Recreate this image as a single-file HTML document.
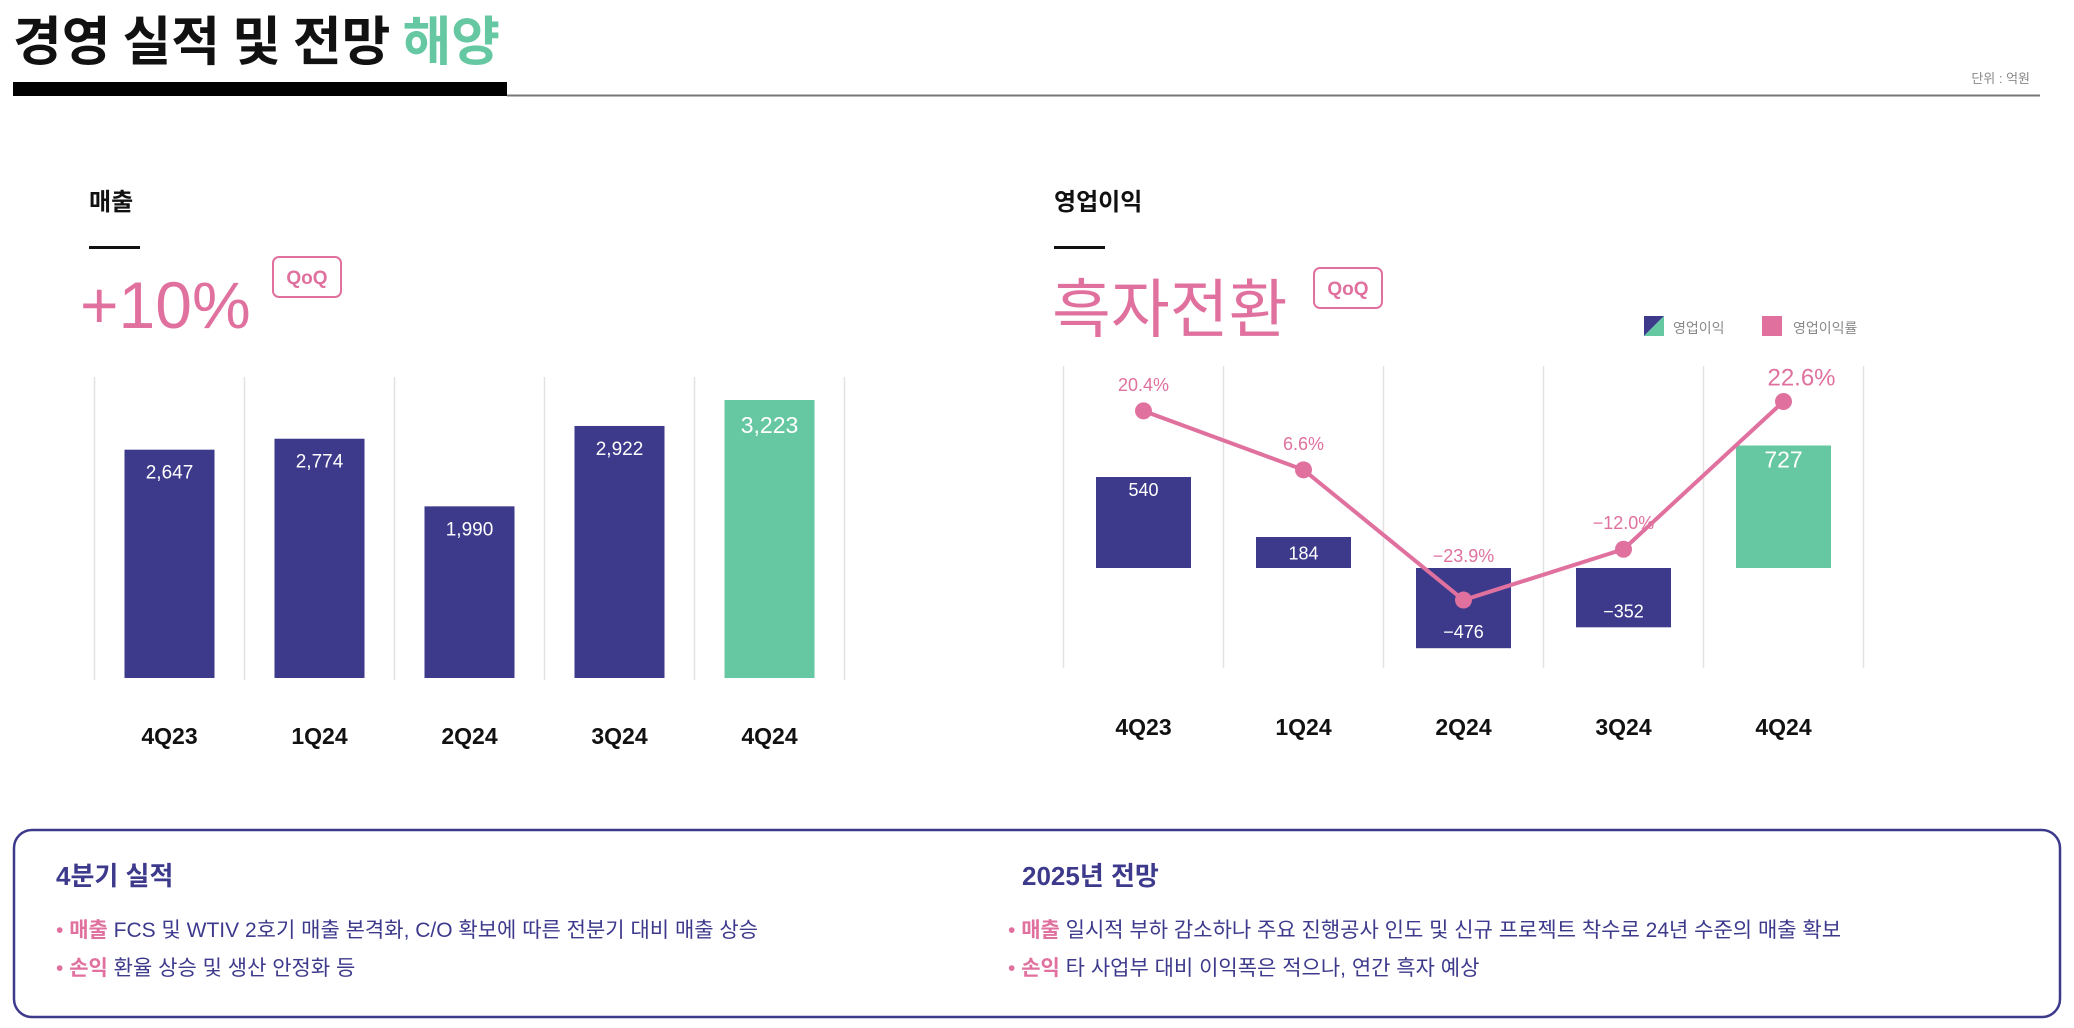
<!DOCTYPE html>
<html><head><meta charset="utf-8"><style>
html,body{margin:0;padding:0;background:#fff;}
svg{display:block;font-family:"Liberation Sans","Noto Sans CJK KR",sans-serif;}
</style></head><body>
<svg id="root" width="2074" height="1028" viewBox="0 0 2074 1028" xmlns="http://www.w3.org/2000/svg">
<text x="13" y="60" font-size="53" font-weight="700" fill="#111" font-family="Noto Sans CJK KR, sans-serif">경영 실적 및 전망 <tspan fill="#66c7a3">해양</tspan></text>
<rect x="13" y="82" width="494" height="14" fill="#000"/>
<rect x="507" y="94.5" width="1533" height="2" fill="#777"/>
<text x="2030" y="83" font-size="13" fill="#888" text-anchor="end">단위 : 억원</text>

<text x="89" y="210" font-size="24" font-weight="700" fill="#111">매출</text>
<rect x="89" y="246" width="51" height="3" fill="#111"/>
<text x="80" y="328" font-size="66" fill="#e0719f">+10%</text>
<rect x="273" y="257" width="68" height="40" rx="6" fill="none" stroke="#e0719f" stroke-width="2"/>
<text x="307" y="284" font-size="19" font-weight="700" fill="#e0719f" text-anchor="middle">QoQ</text>

<text x="1054" y="210" font-size="24" font-weight="700" fill="#111">영업이익</text>
<rect x="1054" y="246" width="51" height="3" fill="#111"/>
<text x="1052" y="332" font-size="64" fill="#e0719f" font-family="Noto Sans CJK KR, sans-serif">흑자전환</text>
<rect x="1314" y="268" width="68" height="40" rx="6" fill="none" stroke="#e0719f" stroke-width="2"/>
<text x="1348" y="295" font-size="19" font-weight="700" fill="#e0719f" text-anchor="middle">QoQ</text>

<g>
<polygon points="1644,316 1664,316 1644,336" fill="#3d3a8c"/>
<polygon points="1664,316 1664,336 1644,336" fill="#66c7a3"/>
<text x="1673" y="333" font-size="14" fill="#888">영업이익</text>
<rect x="1762" y="316" width="20" height="20" fill="#e0719f"/>
<text x="1793" y="333" font-size="14" fill="#888">영업이익률</text>
</g>
<g id="left"></g><g id="right"></g>

<rect x="14" y="830" width="2046" height="187" rx="18" fill="none" stroke="#3d3a8c" stroke-width="2.5"/>
<g font-size="21" fill="#3d3a8c">
<text x="56" y="885" font-size="26" font-weight="700">4분기 실적</text>
<text x="56" y="937"><tspan fill="#e0719f">• <tspan font-weight="700">매출</tspan></tspan> FCS 및 WTIV 2호기 매출 본격화, C/O 확보에 따른 전분기 대비 매출 상승</text>
<text x="56" y="975"><tspan fill="#e0719f">• <tspan font-weight="700">손익</tspan></tspan> 환율 상승 및 생산 안정화 등</text>
<text x="1022" y="885" font-size="26" font-weight="700">2025년 전망</text>
<text x="1008" y="937"><tspan fill="#e0719f">• <tspan font-weight="700">매출</tspan></tspan> 일시적 부하 감소하나 주요 진행공사 인도 및 신규 프로젝트 착수로 24년 수준의 매출 확보</text>
<text x="1008" y="975"><tspan fill="#e0719f">• <tspan font-weight="700">손익</tspan></tspan> 타 사업부 대비 이익폭은 적으나, 연간 흑자 예상</text>
</g>
</svg>
<script>
const categories = ["4Q23","1Q24","2Q24","3Q24","4Q24"];
const revenue = [2647,2774,1990,2922,3223];
const revenueLabels = ["2,647","2,774","1,990","2,922","3,223"];
const opProfit = [540,184,-476,-352,727];
const opProfitLabels = ["540","184","\u2212476","\u2212352","727"];
const opMargin = [20.4,6.6,-23.9,-12.0,22.6];
const opMarginLabels = ["20.4%","6.6%","\u221223.9%","\u221212.0%","22.6%"];

const NS="http://www.w3.org/2000/svg";
function mk(parent,tag,attrs,txt){const e=document.createElementNS(NS,tag);for(const k in attrs)e.setAttribute(k,attrs[k]);if(txt!==undefined)e.textContent=txt;parent.appendChild(e);return e;}
const PURPLE="#3d3a8c",GREEN="#66c7a3",PINK="#e0719f";
const n=categories.length;

const L=document.getElementById('left');
const lx0=94.5, lstep=150, lbase=678, lscale=278/3223;
const lx=i=>lx0+lstep*i+lstep/2, ly=v=>lbase-v*lscale;
for(let i=0;i<=n;i++){
  const g=mk(L,'line',{x1:lx0+lstep*i,x2:lx0+lstep*i,y1:377,y2:680,stroke:"#e2e2e2","stroke-width":1.5});
  
  
}
revenue.forEach((v,i)=>{
  const last=i===n-1;
  const b=mk(L,'rect',{x:lx(i)-45,y:ly(v),width:90,height:lbase-ly(v),fill:last?GREEN:PURPLE});
  
  
  const t=mk(L,'text',{x:lx(i),y:ly(v)+(last?33:29),"font-size":last?23:19,fill:"#fff","text-anchor":"middle"},revenueLabels[i]);
  
  
  const c=mk(L,'text',{x:lx(i),y:744,"font-size":23,"font-weight":700,fill:"#111","text-anchor":"middle"},categories[i]);
  
  
});

const R=document.getElementById('right');
const rx0=1063.5, rstep=160, rzero=568, rscale=0.1685, pzero=498, pscale=4.27;
const rx=i=>rx0+rstep*i+rstep/2, ry=v=>rzero-v*rscale, py=p=>pzero-p*pscale;
for(let i=0;i<=n;i++){
  const g=mk(R,'line',{x1:rx0+rstep*i,x2:rx0+rstep*i,y1:366,y2:668,stroke:"#e2e2e2","stroke-width":1.5});
  
  
}
opProfit.forEach((v,i)=>{
  const last=i===n-1;
  const y=Math.min(ry(v),rzero), h=Math.abs(v)*rscale;
  const b=mk(R,'rect',{x:rx(i)-47.5,y:y,width:95,height:h,fill:last?GREEN:PURPLE});
  
  
  let ty = v>=0 ? ry(v)+(last?22:19) : ry(v)-10;
  if(v>=0 && h<50) ty=ry(v)+h/2+7;
  const t=mk(R,'text',{x:rx(i),y:ty,"font-size":last?23:18,fill:"#fff","text-anchor":"middle"},opProfitLabels[i]);
  
  
  const c=mk(R,'text',{x:rx(i),y:735,"font-size":23,"font-weight":700,fill:"#111","text-anchor":"middle"},categories[i]);
  
  
});
const pts=opMargin.map((p,i)=>rx(i)+','+py(p)).join(' ');
const line=mk(R,'polyline',{points:pts,fill:"none",stroke:PINK,"stroke-width":4,"stroke-linejoin":"round"});


opMargin.forEach((p,i)=>{
  const last=i===n-1;
  const d=mk(R,'circle',{cx:rx(i),cy:py(p),r:8.5,fill:PINK});
  
  
  const off = (i===2)?38:(last?16:20);
  const t=mk(R,'text',{x:rx(i)+(last?18:0),y:py(p)-off,"font-size":last?24:18,fill:PINK,"text-anchor":"middle"},opMarginLabels[i]);
  
  
});
</script>
</body></html>
